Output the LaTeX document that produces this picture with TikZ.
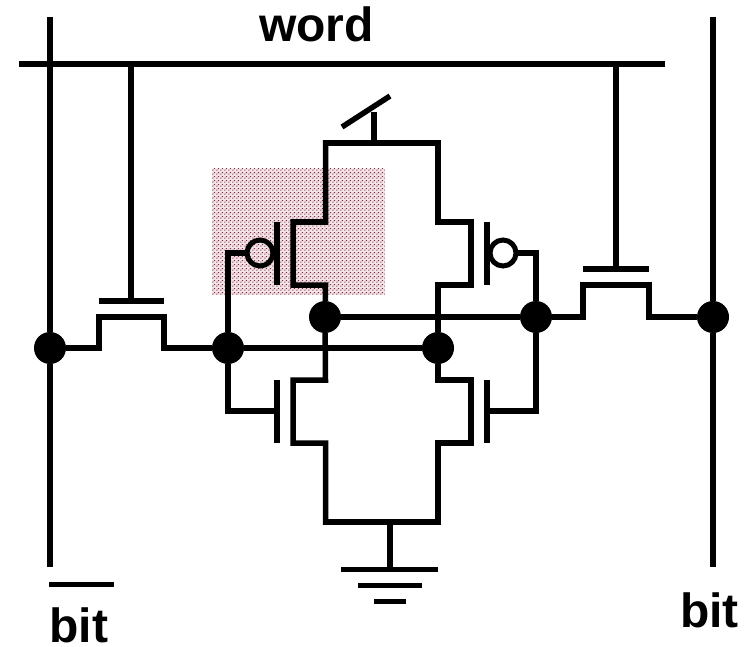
\documentclass[tikz,border=0pt]{standalone}
\usepackage{fontspec}
\setmainfont{Liberation Sans}
\usetikzlibrary{patterns}
\pgfdeclarepatternformonly{stipple}{\pgfqpoint{0pt}{0pt}}{\pgfqpoint{4pt}{4pt}}{\pgfqpoint{4pt}{4pt}}{%
  \pgfpathrectangle{\pgfqpoint{0.4pt}{0.4pt}}{\pgfqpoint{1.4pt}{1.2pt}}%
  \pgfpathrectangle{\pgfqpoint{2.4pt}{2.4pt}}{\pgfqpoint{1.4pt}{1.2pt}}%
  \pgfusepath{fill}}
\definecolor{stipbg}{HTML}{F4E4E8}
\definecolor{stipfg}{HTML}{7E3048}
\tikzset{
  wire/.style={line width=5.5pt,black,line join=miter},
  junction/.style={circle,fill=black,draw=none,inner sep=0pt,outer sep=0pt,minimum size=32pt},
  bubble/.style={circle,draw=black,line width=5pt,fill=none,inner sep=0pt,outer sep=0pt,minimum size=26pt},
  label/.style={anchor=base west,inner sep=0pt,outer sep=0pt,font=\fontsize{48}{50}\selectfont\bfseries},
  stipple area/.style={fill=stipbg,postaction={pattern=stipple,pattern color=stipfg}}
}
\begin{document}
\begin{tikzpicture}[x=1pt,y=-1pt]
\useasboundingbox (0,0) rectangle (752,647);
\fill[white] (0,0) rectangle (752,647);
\path[stipple area] (212,169) rectangle (385,295);

% junctions
\node[junction] (jBL) at (50,348) {};
\node[junction] (jQ) at (228,348) {};
\node[junction] (jQb) at (438,348) {};
\node[junction] (jP) at (325,317) {};
\node[junction] (jS) at (536,317) {};
\node[junction] (jBR) at (713,317) {};
\node[bubble] (bL) at (260,253) {};
\node[bubble] (bR) at (503,253) {};

% free ends
\coordinate (wordW) at (19,64);
\coordinate (wordE) at (665,64);
\coordinate (blT) at (50,17);
\coordinate (blB) at (50,567);
\coordinate (brT) at (713,17);
\coordinate (brB) at (713,567);
\coordinate (wL) at (131,64);
\coordinate (wR) at (616,64);
\coordinate (gnd) at (390,522);
\coordinate (gnd1) at (390,569);
\coordinate (vdd) at (374,143);
\coordinate (vddT) at (374,112);

% word line and bit lines
\draw[wire] (wordW) -- (wordE);
\draw[wire] (blT) -- (jBL) -- (blB);
\draw[wire] (brT) -- (jBR) -- (brB);
\draw[wire] (49,584.5) -- (114,584.5);

% left access transistor
\draw[wire] (wL) -- (131,301);
\draw[wire] (99,301) -- (164,301);
\draw[wire] (jBL) -- (99,348) -- (99,317) -- (164,317) -- (164,348) -- (jQ);

% right access transistor
\draw[wire] (wR) -- (616,269);
\draw[wire] (583,269) -- (649,269);
\draw[wire] (jS) -- (583,317) -- (583,285) -- (649,285) -- (649,317) -- (jBR);

% storage cross connections
\draw[wire] (jQ) -- (jQb);
\draw[wire] (jP) -- (jS);

% supply
\draw[wire] (342,127) -- (390,96);
\draw[wire] (vddT) -- (vdd);

% left PMOS
\draw[wire] (438,143) -- (325.5,143) -- (325.5,222) -- (293,222) -- (293,285) -- (325.5,285) -- (jP);
\draw[wire] (277,222) -- (277,285);
\draw[wire] (bL) -- (228,253) -- (jQ);

% right PMOS
\draw[wire] (325.5,143) -- (438,143) -- (438,222) -- (471,222) -- (471,285) -- (438,285) -- (jQb);
\draw[wire] (487,222) -- (487,285);
\draw[wire] (bR) -- (536,253) -- (jS);

% left NMOS
\draw[wire] (jP) -- (325.5,380) -- (293,380) -- (293,443) -- (325.5,443) -- (325.5,522) -- (438,522);
\draw[wire] (277,380) -- (277,443);
\draw[wire] (jQ) -- (228,411) -- (277,411);

% right NMOS
\draw[wire] (jQb) -- (438,380) -- (471,380) -- (471,443) -- (438,443) -- (438,522) -- (325.5,522);
\draw[wire] (487,380) -- (487,443);
\draw[wire] (jS) -- (536,411) -- (487,411);

% ground
\draw[wire] (gnd) -- (gnd1);
\draw[wire] (341,569.5) -- (438,569.5);
\draw[wire] (358,585.5) -- (422,585.5);
\draw[wire] (374,601.5) -- (406,601.5);

% labels
\node[label] (lword) at (259,42) {word};
\node[label] (lbitL) at (49.5,642.7) {bit};
\node[label] (lbitR) at (680,627) {bit};
\end{tikzpicture}
\end{document}
